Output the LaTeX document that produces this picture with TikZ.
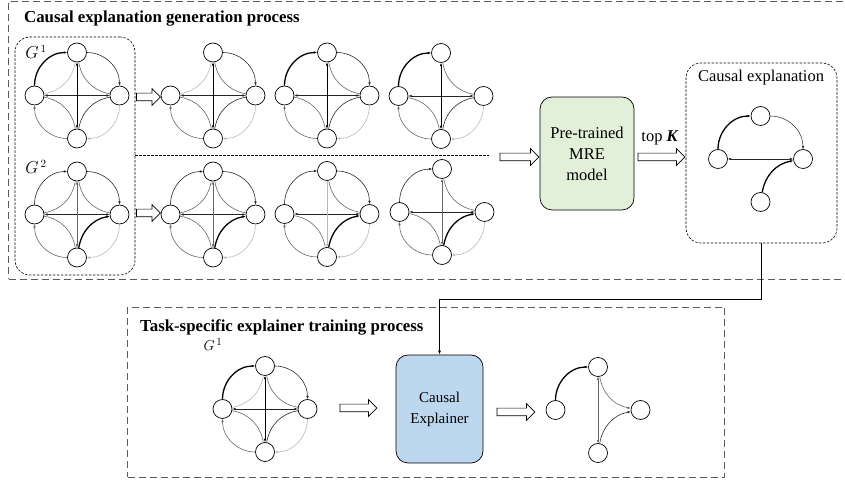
\documentclass[tikz,border=0pt]{standalone}
\usepackage{fontspec}
\setmainfont{Liberation Serif}
\usetikzlibrary{arrows.meta,shapes.arrows}
\definecolor{mregreen}{HTML}{E2EFD9}
\definecolor{expblue}{HTML}{BDD7EE}
\definecolor{boxgray}{HTML}{5A5A5A}

\tikzset{
  gn/.style={circle,draw,line width=0.7pt,minimum size=19pt,inner sep=0pt},
  tk/.style={line width=1.3pt,draw=black},
  vk/.style={line width=1pt,draw=black},
  dk/.style={line width=0.6pt,draw=black!85},
  md/.style={line width=0.6pt,draw=black!60},
  lt/.style={line width=0.6pt,draw=black!28},
  hid/.style={draw=none},
  oLT/.style={hid}, oTR/.style={hid}, oRB/.style={hid}, oBL/.style={hid},
  iTL/.style={hid}, iTR/.style={hid}, iRB/.style={hid}, iBL/.style={hid},
  hLR/.style={hid}, vTB/.style={hid},
  bigdash/.style={draw=boxgray,line width=1pt,dash pattern=on 7pt off 4pt},
  smalldash/.style={draw=black,line width=0.6pt,dash pattern=on 2.5pt off 1.5pt},
  hollow/.style={single arrow,draw,line width=0.7pt,inner xsep=0pt,inner ysep=3.5pt,
    single arrow head extend=4.5pt,single arrow head indent=0pt},
  ttl/.style={font=\bfseries\fontsize{16.8}{19}\selectfont,anchor=base west,inner sep=0pt},
  glab/.style={font=\fontsize{16}{18}\selectfont,inner sep=0pt},
}

\newcommand{\gnodes}[3]{%
  \node[gn] (#1t) at (#2,#3+43) {};
  \node[gn] (#1l) at (#2-42.5,#3) {};
  \node[gn] (#1r) at (#2+42.5,#3) {};
  \node[gn] (#1b) at (#2,#3-43) {};
}
\newcommand{\gedges}[1]{%
  \draw[oLT] (#1l) to[out=90,in=180] (#1t);
  \draw[oTR] (#1t) to[out=0,in=90] (#1r);
  \draw[oRB] (#1r) to[out=-90,in=0] (#1b);
  \draw[oBL] (#1b) to[out=180,in=-90] (#1l);
  \draw[iTL] (#1t) to[out=-100,in=10] (#1l);
  \draw[iTR] (#1t) to[out=-80,in=170] (#1r);
  \draw[iRB] (#1r) to[out=190,in=80] (#1b);
  \draw[iBL] (#1b) to[out=100,in=-10] (#1l);
  \draw[hLR] (#1l) -- (#1r);
  \draw[vTB] (#1t) -- (#1b);
}

\begin{document}
\begin{tikzpicture}[x=1pt,y=1pt,>={Latex[length=3.2pt,width=2.6pt]}]
\useasboundingbox (0,0) rectangle (845,481);

% outer process boxes
\node[bigdash,minimum width=850pt,minimum height=278pt,inner sep=0pt,anchor=south west] (topbox) at (8,201) {};
\node[bigdash,minimum width=597pt,minimum height=170pt,inner sep=0pt,anchor=south west] (botbox) at (127,3) {};
\node[ttl] (t1) at (24,458.3) {Causal explanation generation process};
\node[ttl] (t2) at (140,149.5) {Task-specific explainer training process};

% input graph box
\node[smalldash,rounded corners=15pt,minimum width=120pt,minimum height=238pt,inner sep=0pt] (gbox) at (75,325) {};
\coordinate (sepL) at (135,326);
\coordinate (sepR) at (489,326);
\draw[smalldash] (sepL) -- (sepR);
\node[glab] (lg1) at (36,429) {$G^{\,1}$};
\node[glab] (lg2) at (36,314) {$G^{\,2}$};

% ---------- G1 and its perturbations ----------
\begin{scope}[oLT/.style={tk,->},oTR/.style={dk,->},oRB/.style={lt,->},oBL/.style={md,->},
  iTL/.style={lt},iTR/.style={md},iRB/.style={dk},iBL/.style={md},
  hLR/.style={dk,<->},vTB/.style={vk,<->}]
  \gnodes{ga}{77}{385.5}\gedges{ga}
  \gnodes{gz}{265}{72}\gedges{gz}
\end{scope}
\begin{scope}[oTR/.style={dk,->},oRB/.style={lt,->},oBL/.style={md,->},
  iTL/.style={lt},iTR/.style={md},iRB/.style={dk},iBL/.style={md},
  hLR/.style={dk,<->},vTB/.style={vk,<->}]
  \gnodes{gb}{213}{385.5}\gedges{gb}
\end{scope}
\begin{scope}[oLT/.style={tk,->},oTR/.style={dk,->},oRB/.style={lt,->},oBL/.style={md,->},
  iTR/.style={md},iRB/.style={dk},iBL/.style={md},
  hLR/.style={dk,<->},vTB/.style={vk,<->}]
  \gnodes{gc}{327}{385.5}\gedges{gc}
\end{scope}
\begin{scope}[oLT/.style={tk,->},oRB/.style={lt,->},oBL/.style={md,->},
  iTR/.style={md},iRB/.style={dk},iBL/.style={md},
  hLR/.style={dk,<->},vTB/.style={vk,<->}]
  \gnodes{gd}{441}{385}\gedges{gd}
\end{scope}

% ---------- G2 and its perturbations ----------
\begin{scope}[oLT/.style={dk,->},oTR/.style={dk,->},oRB/.style={lt,->},oBL/.style={md,->},
  iTL/.style={md},iTR/.style={md},iRB/.style={tk,<-},iBL/.style={md},
  hLR/.style={dk,line width=0.9pt,<->},vTB/.style={md,<->}]
  \gnodes{he}{77}{266.5}\gedges{he}
  \gnodes{hf}{213}{266.5}\gedges{hf}
\end{scope}
\begin{scope}[oLT/.style={dk,->},oTR/.style={dk,->},oRB/.style={lt,->},oBL/.style={md,->},
  iTR/.style={md},iRB/.style={tk,<-},iBL/.style={md},
  hLR/.style={dk,line width=0.9pt,<->},vTB/.style={lt,->}]
  \gnodes{hg}{327}{267}\gedges{hg}
\end{scope}
\begin{scope}[oLT/.style={dk,->},oRB/.style={lt,->},oBL/.style={md,->},
  iTR/.style={md},iRB/.style={tk,<-},iBL/.style={md},
  hLR/.style={dk,line width=0.9pt,<->},vTB/.style={md,<->}]
  \gnodes{hh}{442}{269}\gedges{hh}
\end{scope}

% hollow arrows
\node[hollow,minimum height=24pt] (ha1) at (146.5,384) {};
\node[hollow,minimum height=24pt] (ha2) at (146.5,268) {};
\node[hollow,minimum height=39pt] (ha3) at (517.5,324) {};
\node[hollow,minimum height=47pt] (ha4) at (659.5,324) {};
\node[hollow,minimum height=37pt] (ha5) at (356.5,73) {};
\node[hollow,minimum height=38pt] (ha6) at (514,69) {};

% MRE model
\node[draw,line width=0.7pt,fill=mregreen,rounded corners=12pt,minimum width=94pt,minimum height=113pt,
  align=center,font=\fontsize{16.5}{21}\selectfont] (mre) at (587,327.5) {Pre-trained\\MRE\\model};
\node[font=\fontsize{16.5}{20}\selectfont,inner sep=0pt] (topk) at (660,343) {top \textbf{\textit{K}}};

% causal explanation box
\node[smalldash,rounded corners=15pt,minimum width=151pt,minimum height=180pt,inner sep=0pt] (ce) at (761.5,328) {};
\node[font=\fontsize{16.5}{20}\selectfont,inner sep=0pt] (cetitle) at (761,403) {Causal explanation};
\begin{scope}[oLT/.style={tk,->},oTR/.style={dk,line width=0.5pt,->},
  iRB/.style={tk,<-},hLR/.style={dk,line width=0.5pt,<->}]
  \gnodes{ce}{760.5}{322}\gedges{ce}
\end{scope}

% causal explainer
\node[draw,line width=0.7pt,fill=expblue,rounded corners=12pt,minimum width=87pt,minimum height=108pt,
  align=center,font=\fontsize{15}{21}\selectfont] (cex) at (439.5,72) {Causal\\Explainer};

% output graph
\begin{scope}[oLT/.style={tk,->},iTR/.style={md,->},iRB/.style={dk,<-},vTB/.style={md,line width=0.5pt,<->}]
  \gnodes{out}{598}{71}\gedges{out}
\end{scope}
\node[glab,anchor=base,font=\fontsize{15}{17}\selectfont] (lg3) at (213,130) {$G^{\,1}$};

% connector
\draw[line width=1pt,-{Latex[length=4pt,width=3pt]}] (ce.south) -- ++(0,-56) -| (cex.north);
\end{tikzpicture}
\end{document}
